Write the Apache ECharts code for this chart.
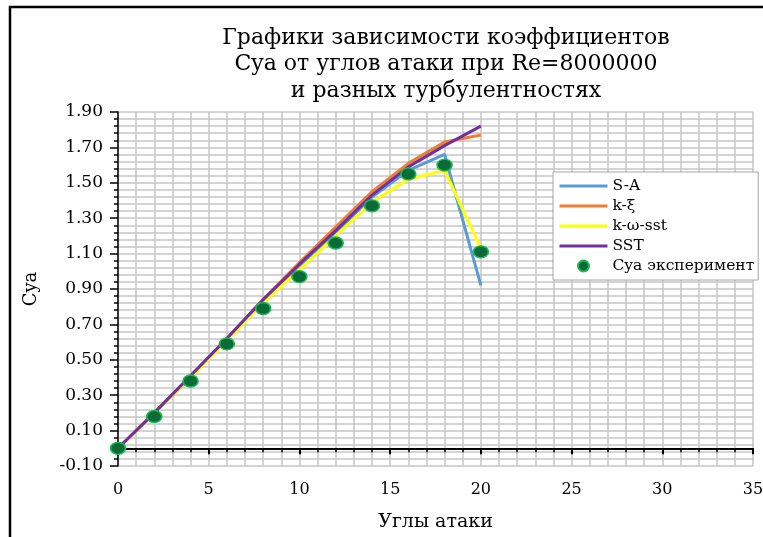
<!DOCTYPE html>
<html>
<head>
<meta charset="utf-8">
<script src="https://cdn.jsdelivr.net/npm/echarts@6/dist/echarts.min.js"></script>
<style>html,body{margin:0;padding:0;background:#fff}#c{width:763px;height:537px}</style>
</head>
<body>
<div id="c"></div>
<script>
const angles = [0, 2, 4, 6, 8, 10, 12, 14, 16, 18, 20];
const seriesNames = ['S-A', 'k-ξ', 'k-ω-sst', 'SST', 'Cya эксперимент'];
const sA = [0, 0.20, 0.41, 0.62, 0.83, 1.03, 1.22, 1.42, 1.57, 1.66, 0.92];
const kXi = [0, 0.20, 0.40, 0.62, 0.84, 1.05, 1.25, 1.45, 1.61, 1.73, 1.77];
const kOmegaSst = [0, 0.20, 0.40, 0.61, 0.82, 1.01, 1.20, 1.39, 1.52, 1.57, 1.13];
const sst = [0, 0.20, 0.41, 0.62, 0.84, 1.04, 1.23, 1.43, 1.59, 1.71, 1.82];
const experiment = [0, 0.18, 0.38, 0.59, 0.79, 0.97, 1.16, 1.37, 1.55, 1.60, 1.11];
const titleText = 'Графики зависимости коэффициентов\nCya от углов атаки при Re=8000000\nи разных турбулентностях';
const xName = 'Углы атаки';
const yName = 'Cya';

const pair = arr => angles.map((a, i) => [a, arr[i]]);
const FONT = 'DejaVu Serif';
const colors = ['#5B9BD5', '#ED7D31', '#FFFF00', '#7030A0'];
const lineData = [sA, kXi, kOmegaSst, sst];
const clear = 'rgba(0,0,0,0)';

const chart = echarts.init(document.getElementById('c'), null, {renderer: 'canvas'});
const series = lineData.map((d, i) => ({
  name: seriesNames[i], type: 'line', data: pair(d), symbol: 'none',
  lineStyle: {color: colors[i], width: 3}, itemStyle: {color: colors[i]}, z: 2 + i
}));
series.push({
  name: seriesNames[4], type: 'scatter', data: pair(experiment), symbol: 'circle',
  symbolSize: [15, 12],
  itemStyle: {color: '#0B6B38', borderColor: '#1DB954', borderWidth: 1.5, opacity: 1}, z: 10
});

const legendData = seriesNames.map((n, i) => i < 4
  ? {name: n, itemStyle: {color: clear, borderColor: clear, borderWidth: 0}, lineStyle: {color: colors[i], width: 3}}
  : {name: n, icon: 'circle'});

chart.setOption({
  animation: false,
  backgroundColor: '#fff',
  title: {
    text: titleText, left: 441, top: 20, textAlign: 'center',
    textStyle: {fontFamily: FONT, fontSize: 22, fontWeight: 'normal', color: '#000', lineHeight: 26.5}
  },
  legend: {
    orient: 'vertical', left: 553, top: 172,
    padding: [6, 4, 6, 5], itemGap: 4, itemWidth: 48, itemHeight: 11,
    backgroundColor: '#fff', borderColor: '#a6a6a6', borderWidth: 1,
    textStyle: {fontFamily: FONT, fontSize: 15.5, color: '#000', lineHeight: 16},
    data: legendData
  },
  grid: {left: 118, top: 112, width: 635, height: 354, show: false, containLabel: false, outerBoundsMode: 'none'},
  xAxis: {
    type: 'value', min: 0, max: 35, interval: 5,
    name: xName, nameLocation: 'middle', nameGap: 47,
    nameTextStyle: {fontFamily: FONT, fontSize: 19, color: '#000'},
    axisLine: {onZero: true, lineStyle: {color: '#000', width: 2}},
    axisTick: {show: true, length: 6, lineStyle: {color: '#000', width: 2}},
    minorTick: {show: true, splitNumber: 5, length: 4, lineStyle: {color: '#000', width: 1.5}},
    axisLabel: {fontFamily: FONT, fontSize: 16, color: '#000', margin: 16},
    splitLine: {show: true, lineStyle: {color: '#c6c6c6', width: 1.5}},
    minorSplitLine: {show: true, lineStyle: {color: '#c6c6c6', width: 1.5}}
  },
  yAxis: {
    type: 'value', min: -0.1, max: 1.9, interval: 0.2,
    name: yName, nameLocation: 'middle', nameGap: 78, nameRotate: 90,
    nameTextStyle: {fontFamily: FONT, fontSize: 18, color: '#000'},
    axisLine: {show: true, onZero: false, lineStyle: {color: '#000', width: 1.5}},
    axisTick: {show: true, length: 8, lineStyle: {color: '#000', width: 1.5}},
    minorTick: {show: true, splitNumber: 5, length: 4, lineStyle: {color: '#000', width: 1.5}},
    axisLabel: {fontFamily: FONT, fontSize: 17, color: '#000', margin: 15, formatter: v => v.toFixed(2)},
    splitLine: {show: true, lineStyle: {color: '#c6c6c6', width: 1.5}},
    minorSplitLine: {show: true, lineStyle: {color: '#c6c6c6', width: 1.5}}
  },
  graphic: [{
    type: 'polyline', silent: true,
    shape: {points: [[10, 537], [10, 7], [763, 7]]},
    style: {stroke: '#000', lineWidth: 2.5, fill: null}
  }],
  series: series
});
</script>
</body>
</html>
